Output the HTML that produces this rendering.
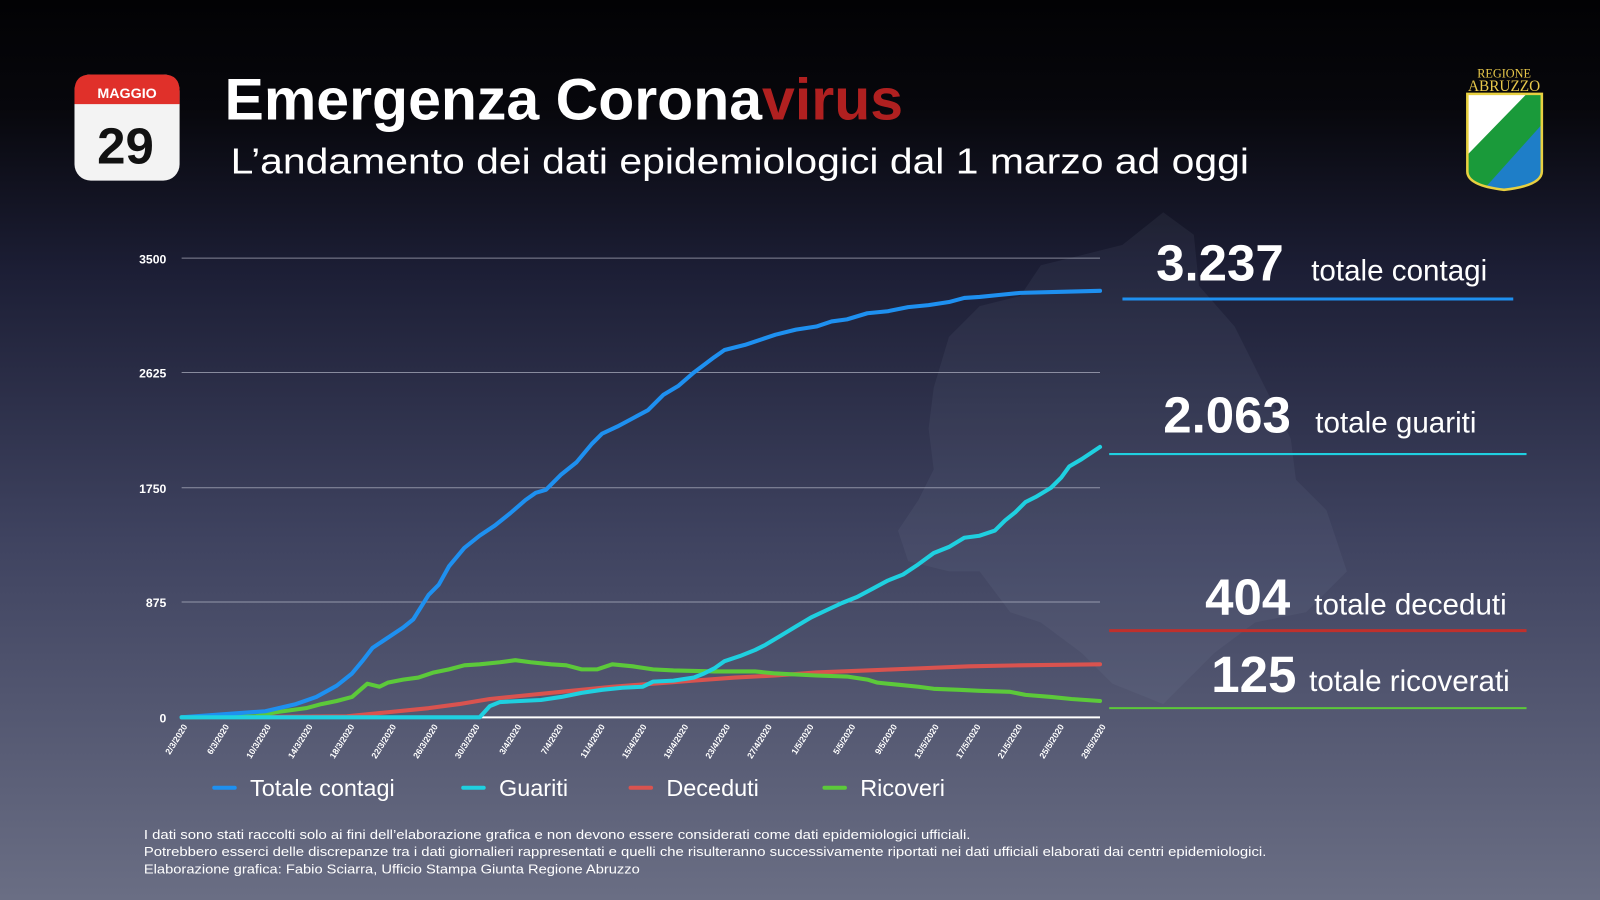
<!DOCTYPE html>
<html><head><meta charset="utf-8"><style>html,body{margin:0;padding:0;width:1600px;height:900px;overflow:hidden;background:#000}</style></head>
<body>
<svg width="1600" height="900" viewBox="0 0 1568 882" preserveAspectRatio="none" xmlns="http://www.w3.org/2000/svg" font-family="Liberation Sans, sans-serif">
<defs>
<linearGradient id="bg" x1="0" y1="0" x2="0" y2="1">
<stop offset="0" stop-color="#020204"/><stop offset="0.12" stop-color="#07070c"/><stop offset="0.3" stop-color="#1c1e35"/><stop offset="0.6" stop-color="#3f4360"/><stop offset="1" stop-color="#6a6e84"/>
</linearGradient>
<clipPath id="sh"><path d="M1438 92 H1511 V168 Q1511 182 1474 186 Q1438 182 1438 168 Z"/></clipPath>
</defs>
<rect width="1568" height="882" fill="url(#bg)"/>
<!-- map silhouette -->
<path d="M1100 240 L1140 208 L1170 230 L1175 280 L1210 320 L1240 380 L1265 430 L1270 470 L1300 500 L1320 560 L1280 600 L1230 610 L1190 640 L1140 690 L1090 670 L1060 640 L1020 610 L990 600 L960 560 L930 560 L890 550 L880 520 L900 490 L915 460 L910 420 L915 380 L930 330 L960 300 L1000 290 L1020 260 L1060 250 Z" fill="#9aa0bb" opacity="0.08"/>
<!-- calendar -->
<rect x="73" y="73" width="103" height="104" rx="16" fill="#f3f3f3"/>
<path d="M73 102 V89 Q73 73 89 73 H160 Q176 73 176 89 V102 Z" fill="#e0302a"/>
<text x="124.5" y="96" text-anchor="middle" font-size="14" font-weight="bold" fill="#fff">MAGGIO</text>
<text x="123" y="160" text-anchor="middle" font-size="50" font-weight="bold" fill="#111">29</text>
<!-- titles -->
<text x="220" y="117" font-size="57" font-weight="bold" fill="#fff" textLength="665" lengthAdjust="spacingAndGlyphs">Emergenza Corona<tspan fill="#b02020">virus</tspan></text>
<text x="226" y="170" font-size="35" fill="#fff" textLength="998" lengthAdjust="spacingAndGlyphs">L’andamento dei dati epidemiologici dal 1 marzo ad oggi</text>
<!-- logo -->
<text x="1474" y="76" text-anchor="middle" font-family="Liberation Serif, serif" font-size="12" fill="#e8c84a">REGIONE</text>
<text x="1474" y="89" text-anchor="middle" font-family="Liberation Serif, serif" font-size="15" fill="#e8c84a">ABRUZZO</text>
<g clip-path="url(#sh)">
<rect x="1430" y="88" width="90" height="100" fill="#1a9a3a"/>
<polygon points="1430,88 1500,88 1430,160" fill="#fff"/>
<polygon points="1520,112 1520,190 1450,190" fill="#1e7ec8"/>
</g>
<path d="M1438 92 H1511 V168 Q1511 182 1474 186 Q1438 182 1438 168 Z" fill="none" stroke="#e8d040" stroke-width="2.5"/>
<!-- grid -->
<g stroke="#c8cad8" stroke-width="1" opacity="0.6">
<line x1="178" y1="253" x2="1078" y2="253"/><line x1="178" y1="365" x2="1078" y2="365"/><line x1="178" y1="478" x2="1078" y2="478"/><line x1="178" y1="590" x2="1078" y2="590"/>
</g>
<line x1="178" y1="703" x2="1078" y2="703" stroke="#fff" stroke-width="2"/>
<g font-size="12" font-weight="bold" fill="#fff" text-anchor="end">
<text x="163" y="258">3500</text><text x="163" y="370">2625</text><text x="163" y="483">1750</text><text x="163" y="595">875</text><text x="163" y="708">0</text>
</g>
<g id="xl" font-size="8.5" font-weight="bold" fill="#fff" text-anchor="end"></g>
<!-- series -->
<g fill="none" stroke-linejoin="round" stroke-linecap="round" stroke-width="4">
<polyline stroke="#d9534f" points="178,703 340,702 380,698 420,694 450,690 480,685 520,681 560,677 600,673 640,670 680,667 720,664 760,662 800,659 850,657 900,655 950,653 1000,652 1078,651"/>
<polyline stroke="#5cc93a" points="178,703 250,702 270,698 300,694 315,690 330,687 345,683 360,670 372,673 380,669 395,666 410,664 425,659 440,656 455,652 470,651 490,649 505,647 520,649 540,651 555,652 570,656 585,656 600,651 620,653 640,656 660,657 700,658 740,658 760,660 780,661 800,662 830,663 850,666 860,669 880,671 900,673 915,675 940,676 960,677 990,678 1005,681 1030,683 1050,685 1078,687"/>
<polyline stroke="#1e90f0" points="178,703 260,697 290,690 310,683 330,672 345,660 355,648 365,635 380,625 395,615 405,607 420,583 430,573 440,555 455,537 470,525 485,515 500,503 515,490 525,483 535,480 550,465 565,453 580,435 590,425 605,418 620,410 635,402 650,387 665,378 680,365 700,350 710,343 730,338 745,333 760,328 780,323 800,320 815,315 830,313 850,307 870,305 890,301 910,299 930,296 945,292 960,291 980,289 1000,287 1040,286 1078,285"/>
<polyline stroke="#1fd0e0" points="178,703 470,703 480,692 490,688 510,687 530,686 550,683 570,679 590,676 610,674 630,673 640,668 660,667 680,664 690,660 700,655 710,648 725,643 740,637 750,632 765,623 780,614 795,605 810,598 825,591 840,585 855,577 870,569 885,563 900,553 915,542 930,536 945,527 960,525 975,520 985,510 995,502 1005,492 1015,487 1030,478 1040,468 1048,457 1060,450 1078,438"/>
</g>
<!-- right totals -->
<g fill="#fff">
<text x="1133" y="275" font-size="50" font-weight="bold">3.237</text><text x="1285" y="275" font-size="29">totale contagi</text>
<text x="1140" y="424" font-size="50" font-weight="bold">2.063</text><text x="1289" y="424" font-size="29">totale guariti</text>
<text x="1181" y="602" font-size="50" font-weight="bold">404</text><text x="1288" y="602" font-size="29">totale deceduti</text>
<text x="1187" y="678" font-size="50" font-weight="bold">125</text><text x="1283" y="677" font-size="29">totale ricoverati</text>
</g>
<line x1="1100" y1="293" x2="1483" y2="293" stroke="#1e90f0" stroke-width="3"/>
<line x1="1087" y1="445" x2="1496" y2="445" stroke="#1fd0e0" stroke-width="2"/>
<line x1="1087" y1="618" x2="1496" y2="618" stroke="#c0302c" stroke-width="3"/>
<line x1="1087" y1="694" x2="1496" y2="694" stroke="#5cc93a" stroke-width="2"/>
<!-- legend -->
<g stroke-width="4" stroke-linecap="round">
<line x1="210" y1="772" x2="230" y2="772" stroke="#1e90f0"/>
<line x1="454" y1="772" x2="474" y2="772" stroke="#1fd0e0"/>
<line x1="618" y1="772" x2="638" y2="772" stroke="#d9534f"/>
<line x1="808" y1="772" x2="828" y2="772" stroke="#5cc93a"/>
</g>
<g fill="#fff" font-size="23">
<text x="245" y="780">Totale contagi</text><text x="489" y="780">Guariti</text><text x="653" y="780">Deceduti</text><text x="843" y="780">Ricoveri</text>
</g>
<g fill="#fff" font-size="12.5" lengthAdjust="spacingAndGlyphs">
<text x="141" y="822" textLength="810" lengthAdjust="spacingAndGlyphs">I dati sono stati raccolti solo ai fini dell’elaborazione grafica e non devono essere considerati come dati epidemiologici ufficiali.</text>
<text x="141" y="839" textLength="1100" lengthAdjust="spacingAndGlyphs">Potrebbero esserci delle discrepanze tra i dati giornalieri rappresentati e quelli che risulteranno successivamente riportati nei dati ufficiali elaborati dai centri epidemiologici.</text>
<text x="141" y="856" textLength="486" lengthAdjust="spacingAndGlyphs">Elaborazione grafica: Fabio Sciarra, Ufficio Stampa Giunta Regione Abruzzo</text>
</g>
</svg>
<script>
var labs=["2/3","6/3","10/3","14/3","18/3","22/3","26/3","30/3","3/4","7/4","11/4","15/4","19/4","23/4","27/4","1/5","5/5","9/5","13/5","17/5","21/5","25/5","29/5"];
var g=document.getElementById('xl'),s='';
labs.forEach(function(l,i){var x=178+i*4*(900/88)+6,y=712;
s+='<text x="'+x+'" y="'+y+'" transform="rotate(-58 '+x+' '+y+')">'+l+'/2020</text>';});
g.innerHTML=s;
</script>
</body></html>
